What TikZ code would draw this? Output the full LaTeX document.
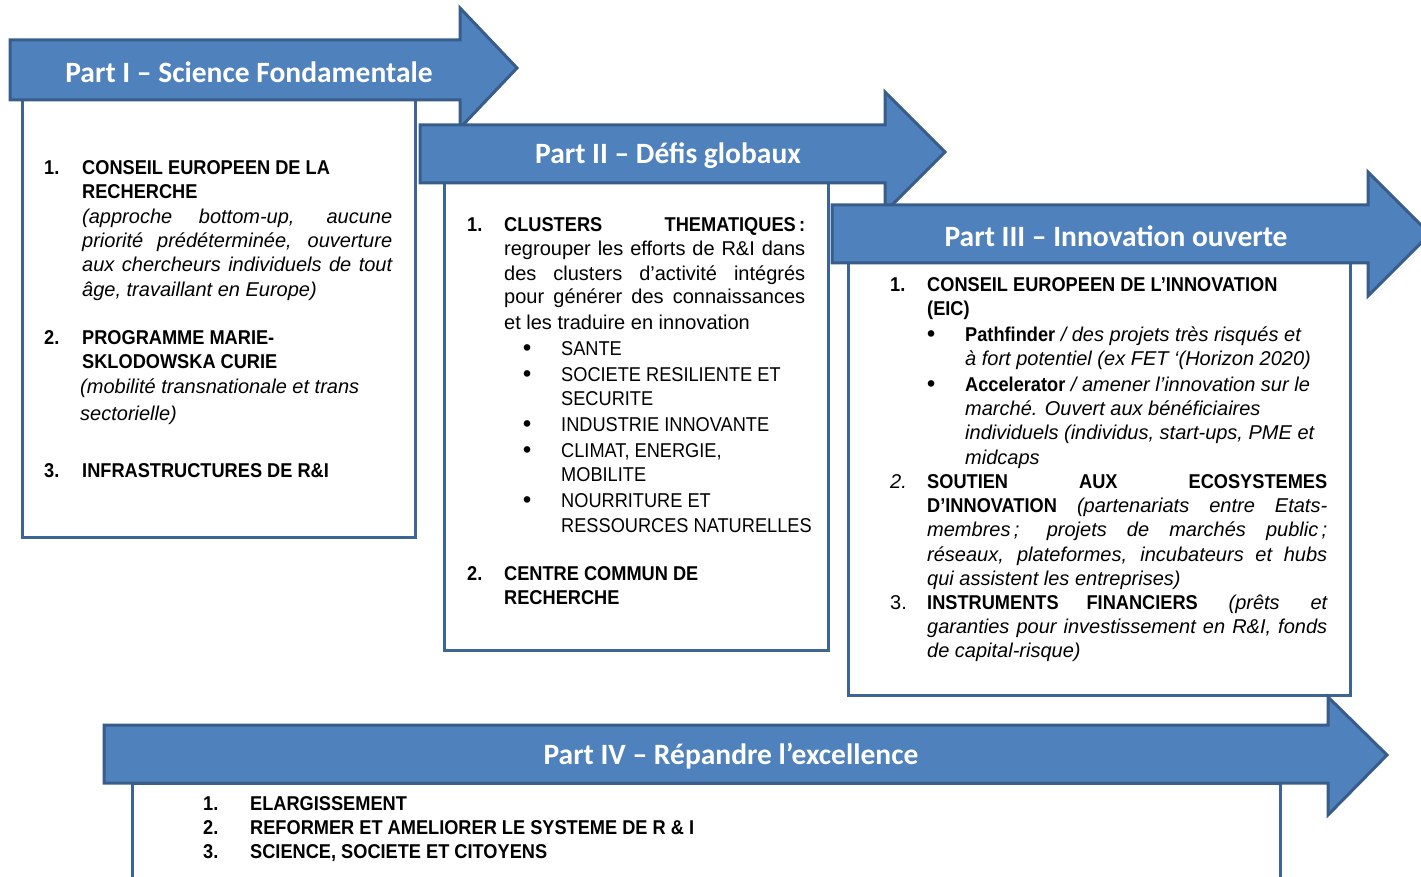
\documentclass[tikz,border=0pt]{standalone}
\usepackage{fontspec}
\setmainfont{Liberation Sans}
\newfontfamily\condfont{Liberation Sans}[FakeStretch=0.91]
\newfontfamily\titlefont{Carlito}
\definecolor{arrfill}{HTML}{4F81BD}
\definecolor{arrline}{HTML}{385D8A}
\definecolor{boxline}{HTML}{3D6496}
\newcommand{\hdg}[1]{{\condfont\bfseries #1}}
\newcommand{\capr}[1]{{\condfont #1}}
\newcommand{\jst}[2]{\makebox[#1][s]{#2}}
\tikzset{
  arrowshape/.style={fill=arrfill,draw=arrline,line width=3pt,line join=miter},
  boxshape/.style={fill=white,draw=boxline,line width=3pt},
  title/.style={font=\titlefont\bfseries\fontsize{29.5}{32}\selectfont,text=white,inner sep=0pt},
  txt/.style={anchor=base west,inner sep=0pt,font=\fontsize{20}{24}\selectfont},
  bul/.style={anchor=base west,inner sep=0pt,font=\bfseries\fontsize{23}{24}\selectfont}
}
\begin{document}
\begin{tikzpicture}[x=1pt,y=-1pt]
\useasboundingbox (0,0) rectangle (1421,877);
\clip (0,0) rectangle (1421,877);

% ---------- Part I ----------
\draw[boxshape] (22,100) rectangle (415,537);
\draw[arrowshape] (10,40) -- (460,40) -- (460,8) -- (517,68) -- (460,128) -- (460,100) -- (10,100) -- cycle;
\node[title] (t1) at (249,72) {Part I – Science Fondamentale};

\node[txt] (p1n1) at (44,175) {\hdg{1.}};
\node[txt] (p1a) at (82,175) {\hdg{CONSEIL EUROPEEN DE LA}};
\node[txt] (p1b) at (82,199) {\hdg{RECHERCHE}};
\node[txt] (p1c) at (82,224) {\itshape\jst{310pt}{(approche bottom-up, aucune}};
\node[txt] (p1d) at (82,248) {\itshape\jst{310pt}{priorité prédéterminée, ouverture}};
\node[txt] (p1e) at (82,272) {\itshape\jst{310pt}{aux chercheurs individuels de tout}};
\node[txt] (p1f) at (82,296) {\itshape âge, travaillant en Europe)};
\node[txt] (p1n2) at (44,344) {\hdg{2.}};
\node[txt] (p1g) at (82,344) {\hdg{PROGRAMME MARIE-}};
\node[txt] (p1h) at (82,368) {\hdg{SKLODOWSKA CURIE}};
\node[txt] (p1i) at (80,393) {\itshape (mobilité transnationale et trans};
\node[txt] (p1j) at (80,420) {\itshape sectorielle)};
\node[txt] (p1n3) at (44,477) {\hdg{3.}};
\node[txt] (p1k) at (82,477) {\hdg{INFRASTRUCTURES DE R\&I}};

% ---------- Part II ----------
\draw[boxshape] (444,183) rectangle (828,650);
\draw[arrowshape] (420,125) -- (885,125) -- (885,92) -- (945,152) -- (885,212) -- (885,183) -- (420,183) -- cycle;
\node[title] (t2) at (668,156) {Part II – Défis globaux};

\node[txt] (p2n1) at (467,232) {\hdg{1.}};
\node[txt] (p2a) at (504,232) {\hdg{\jst{301pt}{CLUSTERS THEMATIQUES\,:}}};
\node[txt] (p2b) at (504,256) {\jst{301pt}{regrouper les efforts de R\&I dans}};
\node[txt] (p2c) at (504,280) {\jst{301pt}{des clusters d’activité intégrés}};
\node[txt] (p2d) at (504,304) {\jst{301pt}{pour générer des connaissances}};
\node[txt] (p2e) at (504,329) {et les traduire en innovation};
\node[bul] (p2u1) at (523,355) {•};
\node[txt] (p2f) at (561,355) {\capr{SANTE}};
\node[bul] (p2u2) at (523,381) {•};
\node[txt] (p2g) at (561,381) {\capr{SOCIETE RESILIENTE ET}};
\node[txt] (p2h) at (561,405) {\capr{SECURITE}};
\node[bul] (p2u3) at (523,431) {•};
\node[txt] (p2i) at (561,431) {\capr{INDUSTRIE INNOVANTE}};
\node[bul] (p2u4) at (523,457) {•};
\node[txt] (p2j) at (561,457) {\capr{CLIMAT, ENERGIE,}};
\node[txt] (p2k) at (561,481) {\capr{MOBILITE}};
\node[bul] (p2u5) at (523,507) {•};
\node[txt] (p2l) at (561,507) {\capr{NOURRITURE ET}};
\node[txt] (p2m) at (561,532) {\capr{RESSOURCES NATURELLES}};
\node[txt] (p2n2) at (467,580) {\hdg{2.}};
\node[txt] (p2o) at (504,580) {\hdg{CENTRE COMMUN DE}};
\node[txt] (p2p) at (504,604) {\hdg{RECHERCHE}};

% ---------- Part III ----------
\draw[boxshape] (848,263) rectangle (1350,695);
\draw[arrowshape] (832,205) -- (1368,205) -- (1368,172) -- (1430,234) -- (1368,296) -- (1368,263) -- (832,263) -- cycle;
\node[title] (t3) at (1116,236) {Part III – Innovation ouverte};

\node[txt] (p3n1) at (890,291) {\hdg{1.}};
\node[txt] (p3a) at (927,291) {\hdg{CONSEIL EUROPEEN DE L’INNOVATION}};
\node[txt] (p3b) at (927,315) {\hdg{(EIC)}};
\node[bul] (p3u1) at (927,341) {•};
\node[txt] (p3c) at (965,341) {\hdg{Pathfinder} \itshape / des projets très risqués et};
\node[txt] (p3d) at (965,365) {\itshape à fort potentiel (ex FET ‘(Horizon 2020)};
\node[bul] (p3u2) at (927,391) {•};
\node[txt] (p3e) at (965,391) {\hdg{Accelerator} \itshape / amener l’innovation sur le};
\node[txt] (p3f) at (965,415) {\itshape marché. Ouvert aux bénéficiaires};
\node[txt] (p3g) at (965,439) {\itshape individuels (individus, start-ups, PME et};
\node[txt] (p3h) at (965,464) {\itshape midcaps};
\node[txt] (p3n2) at (890,488) {\itshape 2.};
\node[txt] (p3i) at (927,488) {\hdg{\jst{400pt}{SOUTIEN AUX ECOSYSTEMES}}};
\node[txt] (p3j) at (927,512) {\jst{400pt}{\hdg{D’INNOVATION} \itshape (partenariats entre Etats-}};
\node[txt] (p3k) at (927,536) {\itshape\jst{400pt}{membres\,; projets de marchés public\,;}};
\node[txt] (p3l) at (927,561) {\itshape\jst{400pt}{réseaux, plateformes, incubateurs et hubs}};
\node[txt] (p3m) at (927,585) {\itshape qui assistent les entreprises)};
\node[txt] (p3n3) at (890,609) {3.};
\node[txt] (p3o) at (927,609) {\jst{400pt}{\hdg{INSTRUMENTS FINANCIERS} \itshape (prêts et}};
\node[txt] (p3p) at (927,633) {\itshape\jst{400pt}{garanties pour investissement en R\&I, fonds}};
\node[txt] (p3q) at (927,657) {\itshape de capital-risque)};

% ---------- Part IV ----------
\draw[boxshape] (132,783) rectangle (1280,900);
\draw[arrowshape] (104,725) -- (1328,725) -- (1328,697) -- (1387,755) -- (1328,815) -- (1328,783) -- (104,783) -- cycle;
\node[title] (t4) at (731,756) {Part IV – Répandre l’excellence};

\node[txt] (p4n1) at (203,810) {\hdg{1.}};
\node[txt] (p4a) at (250,810) {\hdg{ELARGISSEMENT}};
\node[txt] (p4n2) at (203,834) {\hdg{2.}};
\node[txt] (p4b) at (250,834) {\hdg{REFORMER ET AMELIORER LE SYSTEME DE R \& I}};
\node[txt] (p4n3) at (203,858) {\hdg{3.}};
\node[txt] (p4c) at (250,858) {\hdg{SCIENCE, SOCIETE ET CITOYENS}};
\end{tikzpicture}
\end{document}
